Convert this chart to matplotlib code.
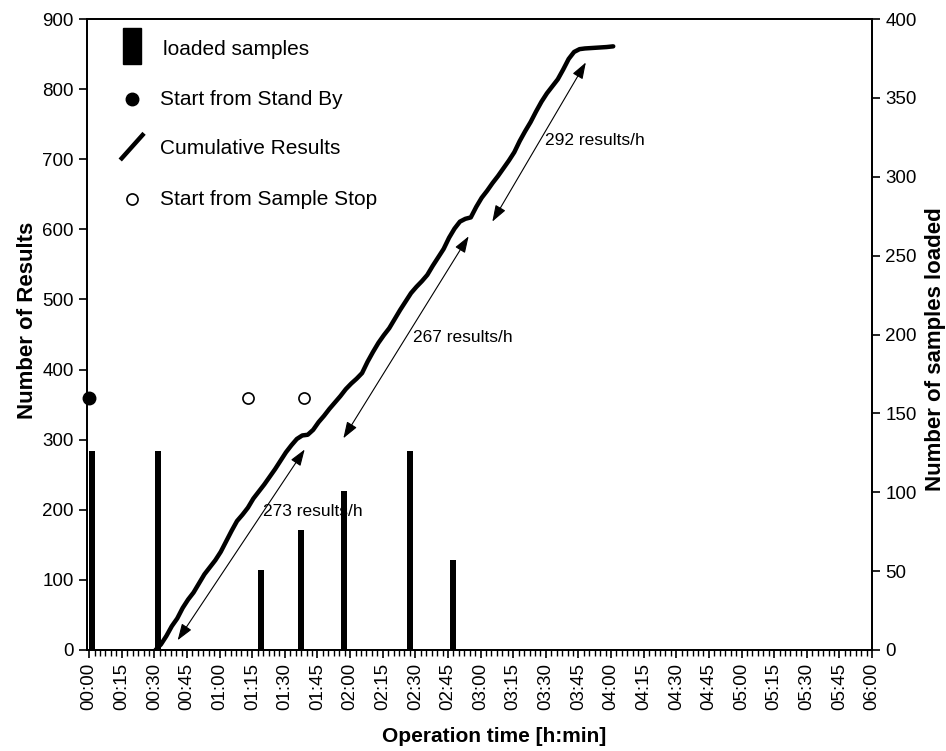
import numpy as np
import matplotlib
matplotlib.use('Agg')
import matplotlib.pyplot as plt
from matplotlib.patches import Rectangle
from matplotlib.lines import Line2D
from matplotlib.ticker import MultipleLocator

plt.rcParams['font.family'] = ['Liberation Sans', 'DejaVu Sans']

# Cumulative results over operation time (minutes since start)
cum_time = [30.5, 33, 35.5, 38, 40.5, 43, 45.5, 48, 50.5, 53, 55.5, 58,
            60.5, 63, 65.5, 68, 70.5, 73, 75.5, 78, 80.5, 83, 85.5, 88,
            90.5, 93, 95.5, 98, 100.5, 103, 105.5, 108, 110.5, 113, 115.5,
            118, 120.5, 123, 125.5, 128, 130.5, 133, 135.5, 138, 140.5, 143,
            145.5, 148, 150.5, 153, 155.5, 158, 160.5, 163, 165.5, 168,
            170.5, 173, 175.5, 178, 180.5, 183, 185.5, 188, 190.5, 193,
            195.5, 198, 200.5, 203, 205.5, 208, 210.5, 213, 215.5, 218,
            220.5, 223, 225.5, 228, 233, 238, 241]
cum_results = [0, 8, 20, 34, 45, 60, 72, 82, 95, 108, 118, 128,
               140, 155, 170, 184, 193, 203, 216, 226, 236, 247, 258, 270,
               282, 292, 301, 306, 307, 314, 325, 334, 344, 353, 362,
               372, 380, 387, 395, 411, 425, 438, 449, 459, 472, 485,
               497, 509, 518, 526, 535, 548, 560, 572, 588, 601,
               611, 615, 617, 632, 645, 655, 666, 676, 687, 698,
               710, 726, 740, 753, 768, 782, 794, 804, 814, 828,
               843, 853, 857, 858, 859, 860, 861]

# Loaded samples (right axis)
load_time = [1.2, 31.5, 79.0, 97.3, 117.3, 147.7, 167.2]
load_samples = [126, 126, 51, 76, 101, 126, 57]

# Start events
standby_time = [0]
standby_y = [360]
stop_time = [73.2, 98.9]
stop_y = [360, 360]

# Throughput arrows: (t0, y0, t1, y1), label and label position
rate_arrows = [(40.7, 14, 99.1, 286), (116.9, 302, 174.5, 590), (185.4, 611, 228.4, 838)]
rate_labels = ['273 results/h', '267 results/h', '292 results/h']
rate_label_pos = [(80, 197), (149, 446), (209.7, 727)]

tick_min = np.arange(0, 361, 15)
tick_lab = ['%02d:%02d' % (m // 60, m % 60) for m in tick_min]

fig = plt.figure(figsize=(9.46, 7.51), dpi=100)
ax = fig.add_axes([87/946, 101/751, 785/946, 631/751])
ax2 = ax.twinx()

ax.plot(cum_time, cum_results, color='black', lw=3.2, solid_capstyle='round', zorder=3)
ax.plot(standby_time, standby_y, 'o', color='black', ms=9, clip_on=False, zorder=4)
ax.plot(stop_time, stop_y, 'o', mfc='white', mec='black', mew=1.2, ms=8, zorder=4)

for (t0, y0, t1, y1), lab, pos in zip(rate_arrows, rate_labels, rate_label_pos):
    ax.annotate('', xy=(t1, y1), xytext=(t0, y0),
                arrowprops=dict(arrowstyle='<|-|>,head_length=1.0,head_width=0.35',
                                lw=0.8, color='black', shrinkA=0, shrinkB=0,
                                mutation_scale=10))
    ax.text(pos[0], pos[1], lab, fontsize=12.5, ha='left', va='center')

ax2.bar(load_time, load_samples, width=2.8, color='black', zorder=2)

ax.set_xlim(-1, 360)
ax.set_ylim(0, 900)
ax2.set_ylim(0, 400)
ax.set_yticks(np.arange(0, 901, 100))
ax2.set_yticks(np.arange(0, 401, 50))
ax.set_xticks(tick_min)
ax.set_xticklabels(tick_lab, rotation=90)
ax.xaxis.set_minor_locator(MultipleLocator(2.5))

ax.tick_params(axis='both', which='major', labelsize=13.5, direction='out', length=6, width=1.2)
ax.tick_params(axis='x', which='minor', direction='out', length=4, width=1)
ax2.tick_params(axis='y', labelsize=13.5, direction='out', length=6, width=1.2)
for a in (ax, ax2):
    for s in a.spines.values():
        s.set_linewidth(1.3)

ax.set_ylabel('Number of Results', fontsize=16, fontweight='bold', labelpad=3)
ax2.set_ylabel('Number of samples loaded', fontsize=16, fontweight='bold', labelpad=6)
ax.set_xlabel('Operation time [h:min]', fontsize=15, fontweight='bold', labelpad=12)
ax.yaxis.label.set_y(0.523)
ax2.yaxis.label.set_y(0.477)
ax.xaxis.label.set_x(0.518)

# Legend drawn by hand in axes coordinates
tr = ax.transAxes
ax.add_patch(Rectangle((0.0462, 0.9287), 0.0222, 0.0566, transform=tr,
                       color='black', clip_on=False))
ax.text(0.0972, 0.951, 'loaded samples', transform=tr, fontsize=15, va='center')
ax.plot([0.0569], [0.8732], 'o', color='black', ms=9, transform=tr)
ax.text(0.093, 0.8732, 'Start from Stand By', transform=tr, fontsize=15, va='center')
ax.add_line(Line2D([0.0442, 0.0708], [0.7792, 0.8162], transform=tr, color='black', lw=3.2))
ax.text(0.093, 0.794, 'Cumulative Results', transform=tr, fontsize=15, va='center')
ax.plot([0.0577], [0.7147], 'o', mfc='white', mec='black', mew=1.2, ms=8, transform=tr)
ax.text(0.093, 0.7147, 'Start from Sample Stop', transform=tr, fontsize=15, va='center')

fig.savefig('out.png', dpi=100)
